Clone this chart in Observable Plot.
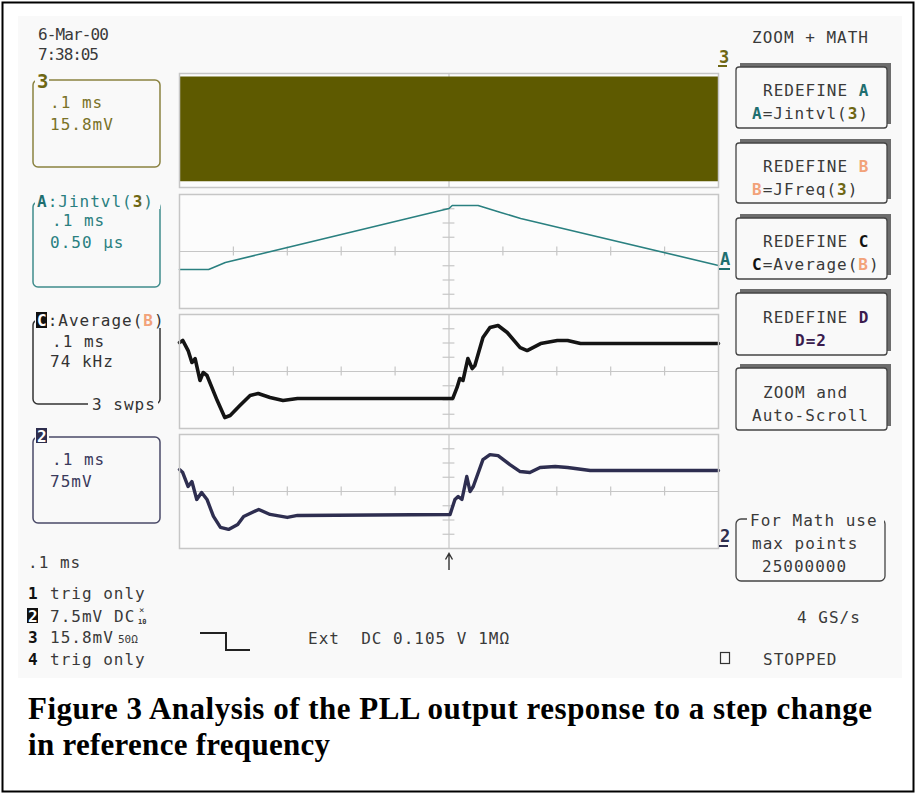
<!DOCTYPE html>
<html><head><meta charset="utf-8">
<script src="https://cdn.jsdelivr.net/npm/d3@7"></script>
<script src="https://cdn.jsdelivr.net/npm/@observablehq/plot@0.6"></script>
<style>
html,body{margin:0;padding:0;background:#fff;}
#fig{position:relative;width:917px;height:795px;overflow:hidden;background:#fff;}
#screen{position:absolute;left:18px;top:16px;width:884px;height:662px;background:#f9f9f9;}
.panel{position:absolute;left:179px;}
#chrome{position:absolute;left:0;top:0;pointer-events:none;}
#chrome text{white-space:pre;}
</style></head><body>
<div id="fig">
  <div id="screen"></div>
  <div id="p1" class="panel" style="top:73px"></div>
  <div id="p2" class="panel" style="top:194px"></div>
  <div id="p3" class="panel" style="top:314px"></div>
  <div id="p4" class="panel" style="top:434px"></div>
  <svg id="chrome" width="917" height="795">
    <rect x="2.5" y="2.5" width="911" height="789" fill="none" stroke="#000" stroke-width="2"/>
    <g font-family="DejaVu Sans Mono" font-size="16" letter-spacing="1" fill="#3a3a3a">
      <text x="38" y="40" textLength="72">6-Mar-00</text>
      <text x="38" y="60" textLength="62">7:38:05</text>
      <text x="752" y="43">ZOOM + MATH</text>

      <!-- box 3 -->
      <rect x="33" y="80" width="127" height="87" rx="5" fill="none" stroke="#8a8240" stroke-width="1.5"/>
      <rect x="35" y="71" width="14" height="18" fill="#f9f9f9"/>
      <text x="37" y="88" font-weight="bold" font-size="19" fill="#6e6714">3</text>
      <text x="50" y="108" fill="#7a7228">.1 ms</text>
      <text x="50" y="130" fill="#7a7228">15.8mV</text>

      <!-- box A -->
      <rect x="33" y="202" width="127" height="85" rx="5" fill="none" stroke="#3f8c8c" stroke-width="1.5"/>
      <rect x="35" y="191" width="125" height="18" fill="#f9f9f9"/>
      <text x="37" y="207"><tspan font-weight="bold" fill="#1f6f70">A</tspan><tspan fill="#2a7f80">:Jintvl(</tspan><tspan font-weight="bold" fill="#6e6714">3</tspan><tspan fill="#2a7f80">)</tspan></text>
      <text x="52" y="226" fill="#2a7f80">.1 ms</text>
      <text x="50" y="248" fill="#2a7f80">0.50 μs</text>

      <!-- box C -->
      <rect x="33" y="320" width="127" height="84" rx="5" fill="none" stroke="#333" stroke-width="1.5"/>
      <rect x="35" y="309" width="134" height="19" fill="#f9f9f9"/>
      <rect x="36" y="312" width="11" height="16" fill="#111"/>
      <text x="37" y="326"><tspan font-weight="bold" fill="#fff">C</tspan><tspan fill="#333">:Average(</tspan><tspan font-weight="bold" fill="#f2a27a">B</tspan><tspan fill="#333">)</tspan></text>
      <text x="52" y="347" fill="#333">.1 ms</text>
      <text x="50" y="367" fill="#333">74 kHz</text>
      <rect x="88" y="396" width="70" height="16" fill="#f9f9f9"/>
      <text x="92" y="410" fill="#333">3 swps</text>

      <!-- box 2 -->
      <rect x="33" y="437" width="127" height="86" rx="5" fill="none" stroke="#4a4a68" stroke-width="1.5"/>
      <rect x="35" y="426" width="14" height="18" fill="#f9f9f9"/>
      <rect x="36" y="428" width="11" height="15" fill="#2e2e4e"/>
      <text x="37" y="442" font-weight="bold" fill="#fff">2</text>
      <text x="52" y="465" fill="#3a3a5c">.1 ms</text>
      <text x="50" y="487" fill="#3a3a5c">75mV</text>

      <!-- bottom-left -->
      <text x="28" y="568">.1 ms</text>
      <text x="28" y="599" font-weight="bold" fill="#111">1</text>
      <text x="50" y="599">trig only</text>
      <rect x="27" y="608" width="11" height="15" fill="#111"/>
      <text x="28" y="622" font-weight="bold" fill="#fff">2</text>
      <text x="50" y="622">7.5mV</text>
      <text x="114" y="622">DC</text>
      <text x="139" y="613" font-size="9" letter-spacing="0">×</text>
      <text x="138" y="624" font-size="7" font-weight="bold" letter-spacing="0">10</text>
      <text x="28" y="643" font-weight="bold" fill="#111">3</text>
      <text x="50" y="643">15.8mV</text>
      <text x="118" y="643" font-size="11" letter-spacing="0">50Ω</text>
      <text x="28" y="665" font-weight="bold" fill="#111">4</text>
      <text x="50" y="665">trig only</text>
      <path d="M200 633 H226 V650 H250" fill="none" stroke="#222" stroke-width="2"/>
      <text x="308" y="644">Ext  DC 0.105 V 1MΩ</text>

      <!-- trigger arrow -->
      <path d="M449 570 V554 M445.5 559.5 L449 553.5 L452.5 559.5" fill="none" stroke="#333" stroke-width="1.4"/>

      <!-- right markers -->
      <text x="719" y="63" font-weight="bold" font-size="17" fill="#6e6714">3</text>
      <line x1="718" y1="66" x2="727" y2="66" stroke="#6e6714" stroke-width="2"/>
      <text x="720" y="265" font-weight="bold" font-size="17" fill="#1f6f70">A</text>
      <line x1="719" y1="269" x2="730" y2="269" stroke="#1f6f70" stroke-width="2"/>
      <text x="720" y="542" font-weight="bold" font-size="17" fill="#2e2e4e">2</text>
      <line x1="719" y1="546" x2="728" y2="546" stroke="#2e2e4e" stroke-width="2"/>

      <!-- menu buttons -->
      <g stroke-width="1.3">
        <rect x="740" y="63" width="151" height="61" fill="#6d6d6d"/>
        <rect x="736" y="67" width="151" height="61" rx="3" fill="#f9f9f9" stroke="#444"/>
        <rect x="740" y="139" width="151" height="60" fill="#6d6d6d"/>
        <rect x="736" y="143" width="151" height="60" rx="3" fill="#f9f9f9" stroke="#444"/>
        <rect x="740" y="214" width="151" height="61" fill="#6d6d6d"/>
        <rect x="736" y="218" width="151" height="61" rx="3" fill="#f9f9f9" stroke="#444"/>
        <rect x="740" y="289" width="151" height="62" fill="#6d6d6d"/>
        <rect x="736" y="293" width="151" height="62" rx="3" fill="#f9f9f9" stroke="#444"/>
        <rect x="740" y="364" width="151" height="62" fill="#6d6d6d"/>
        <rect x="736" y="368" width="151" height="62" rx="3" fill="#f9f9f9" stroke="#444"/>
      </g>
      <text x="763" y="96">REDEFINE <tspan font-weight="bold" fill="#1f6f70">A</tspan></text>
      <text x="752" y="119"><tspan font-weight="bold" fill="#1f6f70">A</tspan>=Jintvl(<tspan font-weight="bold" fill="#6e6714">3</tspan>)</text>
      <text x="763" y="172">REDEFINE <tspan font-weight="bold" fill="#f2a27a">B</tspan></text>
      <text x="752" y="195"><tspan font-weight="bold" fill="#f2a27a">B</tspan>=JFreq(<tspan font-weight="bold" fill="#6e6714">3</tspan>)</text>
      <text x="763" y="247">REDEFINE <tspan font-weight="bold" fill="#111">C</tspan></text>
      <text x="752" y="270"><tspan font-weight="bold" fill="#111">C</tspan>=Average(<tspan font-weight="bold" fill="#f2a27a">B</tspan>)</text>
      <text x="763" y="323">REDEFINE <tspan font-weight="bold" fill="#3a1c4e">D</tspan></text>
      <text x="795" y="346" font-weight="bold" fill="#3a1c4e">D=2</text>
      <text x="763" y="398">ZOOM and</text>
      <text x="752" y="421">Auto-Scroll</text>

      <!-- math box -->
      <rect x="736" y="519" width="149" height="62" rx="5" fill="none" stroke="#444" stroke-width="1.3"/>
      <rect x="747" y="510" width="137" height="17" fill="#f9f9f9"/>
      <text x="750" y="526">For Math use</text>
      <text x="752" y="549">max points</text>
      <text x="762" y="572">25000000</text>

      <text x="797" y="623">4 GS/s</text>
      <rect x="720.5" y="652.5" width="9" height="11" fill="none" stroke="#333" stroke-width="1.2"/>
      <text x="763" y="665">STOPPED</text>
    </g>
    <g font-family="Liberation Serif" font-weight="bold" font-size="31" fill="#000">
      <text x="28" y="719" textLength="844" lengthAdjust="spacing">Figure 3 Analysis of the PLL output response to a step change</text>
      <text x="28" y="755" textLength="302" lengthAdjust="spacing">in reference frequency</text>
    </g>
  </svg>
</div>
<script>
// ---- data (time in ms, values in screen divisions) ----
const xTicks = [-0.4, -0.3, -0.2, -0.1, 0.1, 0.2, 0.3, 0.4];
const yTicks = [-3, -2, -1, 1, 2, 3];

// Channel 3 (dense carrier) envelope
const band3T = [-0.5, 0.5];
const band3Low = -3.6;
const band3High = 3.75;

// Math A: Jintvl(3)
const tA = [-0.5, -0.446, -0.437, -0.415, 0.0, 0.006, 0.054, 0.096, 0.133, 0.5];
const vA = [-1.26, -1.26, -1.12, -0.77, 3.02, 3.23, 3.23, 2.74, 2.32, -0.98];

// Math C: Average(B)
const tC = [-0.5, -0.494, -0.484, -0.477, -0.471, -0.462, -0.456, -0.449, -0.430, -0.416, -0.406, -0.388, -0.369, -0.354, -0.332, -0.308, -0.281, 0.007, 0.015, 0.020, 0.026, 0.035, 0.043, 0.048, 0.063, 0.076, 0.091, 0.108, 0.132, 0.145, 0.170, 0.201, 0.220, 0.244, 0.5];
const vC = [2.04, 2.18, 1.47, 0.63, 0.91, -0.63, -0.07, -0.28, -2.04, -3.23, -3.09, -2.39, -1.68, -1.54, -1.82, -2.04, -1.89, -1.89, -1.12, -0.49, -0.63, 0.91, 0.21, 0.42, 2.39, 3.09, 3.23, 2.74, 1.68, 1.47, 1.96, 2.18, 2.18, 1.96, 1.96];

// Channel 2
const t2 = [-0.5, -0.494, -0.484, -0.477, -0.468, -0.459, -0.449, -0.437, -0.424, -0.409, -0.392, -0.381, -0.353, -0.332, -0.300, -0.281, 0.002, 0.011, 0.017, 0.024, 0.033, 0.039, 0.045, 0.063, 0.076, 0.091, 0.113, 0.132, 0.150, 0.169, 0.197, 0.220, 0.262, 0.5];
const v2 = [1.54, 1.33, 0.35, 0.70, -0.56, -0.07, -0.56, -1.75, -2.52, -2.66, -2.31, -1.75, -1.26, -1.61, -1.82, -1.68, -1.61, -0.56, -0.35, -0.56, 1.05, 0.0, 0.35, 2.24, 2.59, 2.52, 1.89, 1.40, 1.33, 1.68, 1.75, 1.68, 1.47, 1.47];

const gridColor = "#c6c6c6";
const zip = (ts, vs) => ts.map((t, i) => ({t, v: vs[i]}));

function panel(marks) {
  return Plot.plot({
    width: 539, height: 114, margin: 0,
    x: {domain: [-0.5, 0.5], axis: null},
    y: {domain: [-4, 4], axis: null},
    style: {background: "#fcfcfc", overflow: "visible"},
    marks: [
      Plot.ruleY([0], {stroke: gridColor, strokeWidth: 1.2}),
      Plot.ruleX([0], {stroke: gridColor, strokeWidth: 1.2}),
      Plot.ruleX(xTicks, {x: d => d, y1: -0.32, y2: 0.32, stroke: gridColor, strokeWidth: 1.2}),
      Plot.ruleY(yTicks, {y: d => d, x1: -0.011, x2: 0.011, stroke: gridColor, strokeWidth: 1.2}),
      ...marks,
      Plot.frame({stroke: gridColor, strokeWidth: 1.5})
    ]
  });
}

document.getElementById("p1").append(panel([
  Plot.areaY(band3T, {x: d => d, y1: band3Low, y2: band3High, fill: "#5e5a00"})
]));
document.getElementById("p2").append(panel([
  Plot.line(zip(tA, vA), {x: "t", y: "v", stroke: "#2a8080", strokeWidth: 1.6})
]));
document.getElementById("p3").append(panel([
  Plot.line(zip(tC, vC), {x: "t", y: "v", stroke: "#141414", strokeWidth: 3.6, strokeLinejoin: "round"})
]));
document.getElementById("p4").append(panel([
  Plot.line(zip(t2, v2), {x: "t", y: "v", stroke: "#2e2e50", strokeWidth: 3.4, strokeLinejoin: "round"})
]));
</script>
</body></html>
